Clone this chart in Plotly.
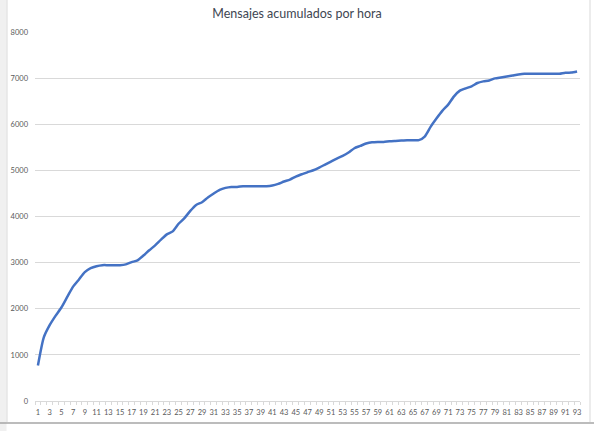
import plotly.graph_objects as go

hours = list(range(1, 94))
mensajes = [
    770, 1380, 1645, 1846, 2027, 2256, 2479, 2636, 2794, 2880,
    2923, 2945, 2945, 2945, 2945, 2962, 3010, 3050, 3153, 3268,
    3375, 3498, 3612, 3677, 3842, 3965, 4122, 4251, 4310, 4411,
    4498, 4577, 4620, 4641, 4641, 4657, 4657, 4657, 4657, 4657,
    4671, 4707, 4758, 4800, 4866, 4916, 4960, 5003, 5061, 5126,
    5191, 5256, 5313, 5386, 5480, 5530, 5582, 5610, 5617, 5617,
    5632, 5639, 5645, 5655, 5655, 5655, 5734, 5943, 6123, 6289,
    6425, 6605, 6728, 6778, 6821, 6894, 6929, 6950, 6994, 7015,
    7037, 7058, 7080, 7095, 7095, 7095, 7095, 7095, 7095, 7095,
    7118, 7120, 7145,
]
x_labels = list(range(1, 94, 2))

FONT = "Lato, Roboto, sans-serif"
GRID = "#D9D9D9"
TXT = "#595959"

fig = go.Figure()
fig.add_trace(
    go.Scatter(
        x=hours,
        y=mensajes,
        mode="lines",
        line=dict(color="#4472C4", width=2.5, shape="spline", smoothing=0.6),
        hoverinfo="x+y",
    )
)

# plot area is 35..580 px wide, 32..401 px tall
def px_x(p):
    return (p - 35) / 545

def px_y(p):
    return (401 - p) / 369

shapes = [
    # grey strip on the left of the sheet
    dict(type="rect", xref="paper", yref="paper",
         x0=px_x(0), x1=px_x(6.5), y0=px_y(440), y1=px_y(-10),
         fillcolor="#F0F0F0", line=dict(width=0)),
    # chart border
    dict(type="line", xref="paper", yref="paper",
         x0=px_x(7), x1=px_x(7), y0=px_y(422), y1=px_y(-10),
         line=dict(color=GRID, width=1)),
    dict(type="line", xref="paper", yref="paper",
         x0=px_x(590), x1=px_x(590), y0=px_y(422), y1=px_y(-10),
         line=dict(color=GRID, width=1)),
    dict(type="line", xref="paper", yref="paper",
         x0=px_x(0), x1=px_x(594), y0=px_y(423), y1=px_y(423),
         line=dict(color="#A6A6A6", width=1.5)),
]

fig.update_layout(
    width=594,
    height=431,
    title=dict(
        text="Mensajes acumulados por hora",
        x=0.5,
        xanchor="center",
        y=1 - 14 / 431,
        yanchor="middle",
        font=dict(family=FONT, size=12.5, color="#3E4652"),
    ),
    font=dict(family=FONT, size=8, color=TXT),
    plot_bgcolor="white",
    paper_bgcolor="white",
    showlegend=False,
    margin=dict(l=35, r=14, t=32, b=30),
    xaxis=dict(
        range=[0.5, 93.5],
        automargin=False,
        tickvals=x_labels,
        ticktext=[str(v) for v in x_labels],
        tickangle=0,
        ticks="",
        showgrid=False,
        showline=True,
        linecolor=GRID,
        linewidth=1,
        zeroline=False,
        tickfont=dict(family=FONT, size=7.5, color=TXT),
        ticklabelstandoff=4,
        minor=dict(
            tickvals=[h + 0.5 for h in [0] + hours],
            ticks="outside",
            ticklen=3,
            tickcolor=GRID,
            showgrid=False,
        ),
    ),
    yaxis=dict(
        range=[0, 8000],
        automargin=False,
        dtick=1000,
        showgrid=True,
        gridcolor=GRID,
        gridwidth=1,
        showline=False,
        zeroline=False,
        ticks="",
        tickfont=dict(family=FONT, size=7.5, color=TXT),
        ticklabelstandoff=6,
    ),
    shapes=shapes,
)

# the browser's default 8px body margin would shift the whole figure
fig.write_html(
    "out.html",
    config={"displayModeBar": False},
    post_script="document.body.style.margin = '0';",
)
